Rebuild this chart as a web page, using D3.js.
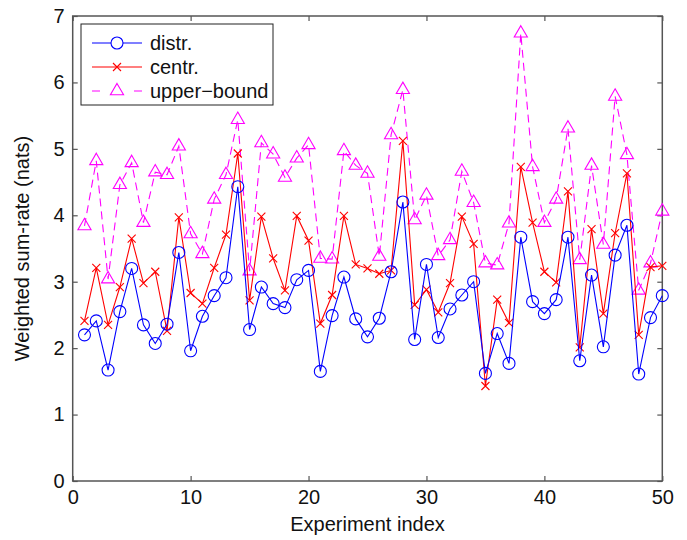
<!DOCTYPE html>
<html>
<head>
<meta charset="utf-8">
<script src="https://cdn.jsdelivr.net/npm/d3@7"></script>
<style>
  body { margin: 0; background: #fff; }
  text { font-family: "Liberation Sans", Arial, sans-serif; }
</style>
</head>
<body>
<svg id="chart"></svg>
<script>
var distr = [2.20, 2.41, 1.67, 2.55, 3.20, 2.35, 2.07, 2.36, 3.44, 1.96,
             2.48, 2.79, 3.06, 4.43, 2.28, 2.92, 2.67, 2.61, 3.03, 3.17,
             1.65, 2.49, 3.07, 2.44, 2.17, 2.45, 3.15, 4.20, 2.13, 3.26,
             2.16, 2.59, 2.80, 3.00, 1.62, 2.22, 1.77, 3.67, 2.70, 2.52,
             2.73, 3.67, 1.81, 3.10, 2.02, 3.40, 3.85, 1.61, 2.46, 2.79];
var centr = [2.41, 3.21, 2.35, 2.92, 3.65, 2.98, 3.15, 2.26, 3.97, 2.83,
             2.67, 3.21, 3.71, 4.93, 2.72, 3.98, 3.35, 2.87, 3.99, 3.62,
             2.37, 2.80, 3.99, 3.26, 3.20, 3.12, 3.17, 5.12, 2.65, 2.88,
             2.54, 2.98, 3.98, 3.57, 1.43, 2.73, 2.38, 4.73, 3.89, 3.15,
             2.99, 4.36, 2.01, 3.79, 2.52, 3.73, 4.63, 2.20, 3.22, 3.24];
var upper = [3.84, 4.82, 3.04, 4.46, 4.79, 3.89, 4.65, 4.61, 5.04, 3.72,
             3.42, 4.24, 4.61, 5.44, 3.16, 5.09, 4.92, 4.57, 4.86, 5.06,
             3.35, 3.34, 4.97, 4.75, 4.63, 3.38, 5.21, 5.89, 3.93, 4.30,
             3.39, 3.63, 4.66, 4.19, 3.28, 3.25, 3.88, 6.74, 4.73, 3.89,
             4.24, 5.31, 3.33, 4.75, 3.56, 5.79, 4.91, 2.87, 3.28, 4.06];
var xTicks = [0, 10, 20, 30, 40, 50];
var yTicks = [0, 1, 2, 3, 4, 5, 6, 7];
var seriesNames = ["distr.", "centr.", "upper\u2212bound"];

var width = 687, height = 540;
var mLeft = 72.7, mRight = 662.3, mTop = 16, mBottom = 481;

var svg = d3.select("#chart").attr("width", width).attr("height", height);

var x = d3.scaleLinear().domain([0, 50]).range([mLeft, mRight]);
var y = d3.scaleLinear().domain([0, 7]).range([mBottom, mTop]);

var axisColor = "#555";

// frame
svg.append("rect")
  .attr("x", mLeft).attr("y", mTop)
  .attr("width", mRight - mLeft).attr("height", mBottom - mTop)
  .attr("fill", "none").attr("stroke", axisColor).attr("stroke-width", 1.5);

// axes with inward ticks
var xAxis = svg.append("g").attr("transform", "translate(0," + mBottom + ")")
  .call(d3.axisBottom(x).tickValues(xTicks).tickFormat(d3.format("d"))
    .tickSizeInner(-5).tickSizeOuter(0).tickPadding(9));
var xAxisTop = svg.append("g").attr("transform", "translate(0," + mTop + ")")
  .call(d3.axisTop(x).tickValues(xTicks).tickSizeInner(-5).tickSizeOuter(0).tickFormat(""));
var yAxis = svg.append("g").attr("transform", "translate(" + mLeft + ",0)")
  .call(d3.axisLeft(y).tickValues(yTicks).tickFormat(d3.format("d"))
    .tickSizeInner(-5).tickSizeOuter(0).tickPadding(8));
var yAxisRight = svg.append("g").attr("transform", "translate(" + mRight + ",0)")
  .call(d3.axisRight(y).tickValues(yTicks).tickSizeInner(-5).tickSizeOuter(0).tickFormat(""));

[xAxis, xAxisTop, yAxis, yAxisRight].forEach(function(g) {
  g.select(".domain").remove();
  g.selectAll("line").attr("stroke", axisColor).attr("stroke-width", 1.2);
  g.selectAll("text").attr("fill", "#111").style("font-size", "20px")
    .style("font-family", "'Liberation Sans', Arial, sans-serif");
});

// axis labels
svg.append("text")
  .attr("x", (mLeft + mRight) / 2).attr("y", 531)
  .attr("text-anchor", "middle")
  .style("font-size", "20px").attr("fill", "#111")
  .text("Experiment index");
svg.append("text")
  .attr("transform", "translate(29," + ((mTop + mBottom) / 2) + ") rotate(-90)")
  .attr("text-anchor", "middle")
  .style("font-size", "20px").attr("fill", "#111")
  .text("Weighted sum-rate (nats)");

var line = d3.line()
  .x(function(d, i) { return x(i + 1); })
  .y(function(d) { return y(d); });

var plot = svg.append("g");

// upper-bound
plot.append("path").datum(upper)
  .attr("d", line).attr("fill", "none")
  .attr("stroke", "#ff00ff").attr("stroke-width", 1.1)
  .attr("stroke-dasharray", "8,5");
var tri = d3.symbol().type(d3.symbolTriangle).size(75);
plot.selectAll(".tri").data(upper).enter().append("path")
  .attr("class", "tri")
  .attr("d", tri)
  .attr("transform", function(d, i) { return "translate(" + x(i + 1) + "," + y(d) + ")"; })
  .attr("fill", "none").attr("stroke", "#ff00ff").attr("stroke-width", 1.1);

// centr.
plot.append("path").datum(centr)
  .attr("d", line).attr("fill", "none")
  .attr("stroke", "#ff0000").attr("stroke-width", 1.1);
plot.selectAll(".cross").data(centr).enter().append("path")
  .attr("class", "cross")
  .attr("d", "M-4,-4L4,4M-4,4L4,-4")
  .attr("transform", function(d, i) { return "translate(" + x(i + 1) + "," + y(d) + ")"; })
  .attr("fill", "none").attr("stroke", "#ff0000").attr("stroke-width", 1.1);

// distr.
plot.append("path").datum(distr)
  .attr("d", line).attr("fill", "none")
  .attr("stroke", "#0000ff").attr("stroke-width", 1.1);
plot.selectAll(".circ").data(distr).enter().append("circle")
  .attr("class", "circ")
  .attr("cx", function(d, i) { return x(i + 1); })
  .attr("cy", function(d) { return y(d); })
  .attr("r", 6)
  .attr("fill", "none").attr("stroke", "#0000ff").attr("stroke-width", 1.1);

// legend
var legend = svg.append("g").attr("class", "legend");
legend.append("rect")
  .attr("x", 81).attr("y", 24).attr("width", 192).attr("height", 81)
  .attr("fill", "#fff").attr("stroke", "#222").attr("stroke-width", 1);

var legColors = ["#0000ff", "#ff0000", "#ff00ff"];
seriesNames.forEach(function(name, i) {
  var ly = 43 + i * 24;
  var g = legend.append("g");
  if (i === 2) {
    g.append("line").attr("x1", 92).attr("x2", 106).attr("y1", ly).attr("y2", ly)
      .attr("stroke", legColors[i]).attr("stroke-dasharray", "8,6");
    g.append("line").attr("x1", 128).attr("x2", 142).attr("y1", ly).attr("y2", ly)
      .attr("stroke", legColors[i]).attr("stroke-dasharray", "8,6").attr("stroke-dashoffset", -6);
    g.append("path").attr("d", tri)
      .attr("transform", "translate(117," + ly + ")")
      .attr("fill", "none").attr("stroke", legColors[i]).attr("stroke-width", 1.1);
  } else {
    g.append("line").attr("x1", 92).attr("x2", 142).attr("y1", ly).attr("y2", ly)
      .attr("stroke", legColors[i]).attr("stroke-width", 1.1);
    if (i === 0) {
      g.append("circle").attr("cx", 117).attr("cy", ly).attr("r", 6)
        .attr("fill", "#fff").attr("stroke", legColors[i]).attr("stroke-width", 1.1);
    } else {
      g.append("path").attr("d", "M-4,-4L4,4M-4,4L4,-4")
        .attr("transform", "translate(117," + ly + ")")
        .attr("stroke", legColors[i]).attr("stroke-width", 1.1);
    }
  }
  g.append("text").attr("x", 150).attr("y", ly + 7)
    .style("font-size", "20px").attr("fill", "#111").text(name);
});
</script>
</body>
</html>
